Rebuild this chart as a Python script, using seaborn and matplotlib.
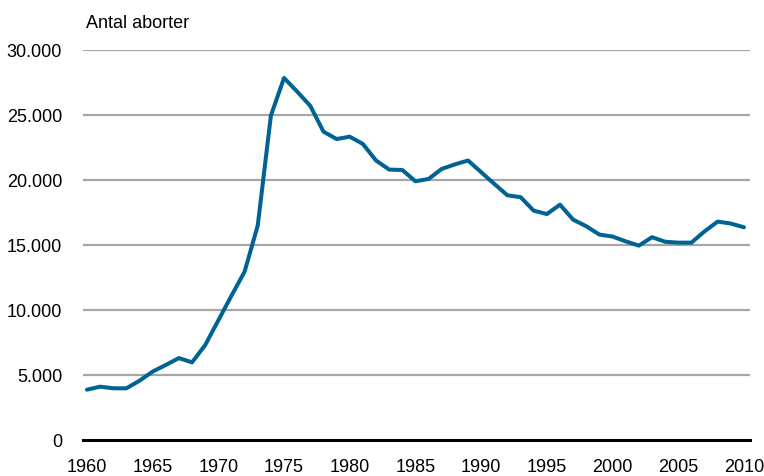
import matplotlib
matplotlib.use("Agg")
import matplotlib.pyplot as plt
import matplotlib.ticker as mticker
import seaborn as sns
import pandas as pd

years = list(range(1960, 2011))
abortions = [3870, 4100, 3980, 3970, 4560, 5260, 5770, 6300, 5970, 7300,
             9200, 11100, 12950, 16500, 24950, 27850, 26800, 25700, 23720, 23150,
             23330, 22770, 21500, 20800, 20770, 19900, 20080, 20850, 21200, 21500,
             20600, 19700, 18820, 18680, 17640, 17380, 18100, 16950, 16440, 15800,
             15650, 15280, 14950, 15600, 15250, 15180, 15180, 16050, 16800, 16650,
             16360]
y_ticks = [0, 5000, 10000, 15000, 20000, 25000, 30000]
x_ticks = list(range(1960, 2011, 5))

df = pd.DataFrame({"year": years, "value": abortions})

sns.set_theme(style="white")
plt.rcParams['font.family'] = ['Liberation Sans', 'DejaVu Sans']
fs = 13

fig = plt.figure(figsize=(7.64, 4.77), dpi=100)
ax = fig.add_axes([0.1086, 0.0755, 0.8731, 0.8176])

for t in y_ticks[1:]:
    ax.axhline(t, color="#A6A6A6", lw=1.6, zorder=1)

sns.lineplot(data=df, x="year", y="value", ax=ax, color="#006394", lw=2.9, zorder=3)

ax.set_xlim(1959.7, 2010.46)
ax.set_ylim(0, 30000)
ax.set_xticks(x_ticks)
ax.set_yticks(y_ticks)
ax.yaxis.set_major_formatter(mticker.FuncFormatter(lambda v, p: f"{int(v):,}".replace(",", ".")))
ax.set_xlabel("")
ax.set_ylabel("")
for s in ["top", "right", "left"]:
    ax.spines[s].set_visible(False)
ax.spines["bottom"].set_color("black")
ax.spines["bottom"].set_linewidth(2.2)
ax.spines["bottom"].set_zorder(4)
ax.tick_params(axis="both", length=0, labelsize=fs, colors="black")
ax.tick_params(axis="y", pad=15)
ax.tick_params(axis="x", pad=13)
ax.grid(False)

fig.text(86 / 764, 1 - 23 / 477, "Antal aborter", fontsize=fs, ha="left", va="center", color="black")

fig.savefig("out.png", dpi=100)
